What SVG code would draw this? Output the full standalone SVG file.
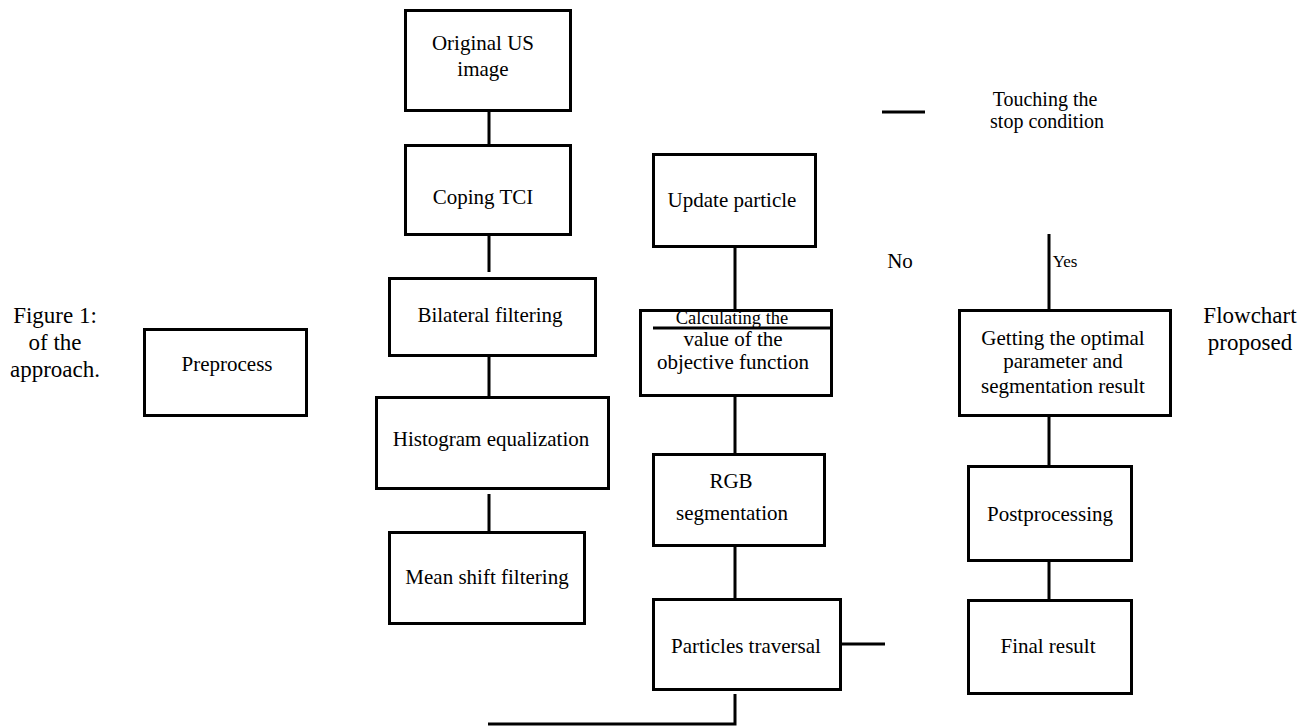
<svg xmlns="http://www.w3.org/2000/svg" width="1312" height="727" viewBox="0 0 1312 727" font-family="'Liberation Serif', 'DejaVu Serif', serif">
<style>
.box{fill:#fff;stroke:#000;stroke-width:3}
.ln{stroke:#000;stroke-width:3;fill:none}
text{font-family:'Liberation Serif','DejaVu Serif',serif;font-size:21px;fill:#000;text-anchor:middle}
.cap{font-size:23px}
.sm{font-size:18.5px}
.ys{font-size:17px}
.st{font-size:20px}
</style>
<rect width="1312" height="727" fill="#fff"/>
<g id="connectors">
<path class="ln" d="M489 112V144M489 236V272M489 357V396M489 494V531"/>
<path class="ln" d="M735 248V309M735 397V453M735 547V598M735 694V724H488"/>
<path class="ln" d="M842 644H885M882 112H925"/>
<path class="ln" d="M1049 234V309M1049 417V465M1049 562V599"/>
</g>
<g id="caption-left"><text class="cap" x="55" y="323">Figure 1:</text><text class="cap" x="55" y="350">of the</text><text class="cap" x="55" y="377">approach.</text></g>
<g id="caption-right"><text class="cap" x="1250" y="323">Flowchart</text><text class="cap" x="1250" y="350">proposed</text></g>
<g id="preprocess"><rect class="box" x="144.5" y="329.5" width="162" height="86"/><text x="227" y="371">Preprocess</text></g>
<g id="original"><rect class="box" x="405.5" y="10.5" width="165" height="100"/><text x="483" y="50">Original US</text><text x="483" y="76">image</text></g>
<g id="coping"><rect class="box" x="405.5" y="145.5" width="165" height="89"/><text x="483" y="204">Coping TCI</text></g>
<g id="bilateral"><rect class="box" x="389.5" y="278.5" width="206" height="77"/><text x="490" y="322">Bilateral filtering</text></g>
<g id="histogram"><rect class="box" x="376.5" y="397.5" width="232" height="91"/><text x="491" y="446">Histogram equalization</text></g>
<g id="meanshift"><rect class="box" x="389.5" y="532.5" width="195" height="91"/><text x="487" y="584">Mean shift filtering</text></g>
<g id="update"><rect class="box" x="653.5" y="154.5" width="162" height="92"/><text x="732" y="207">Update particle</text></g>
<g id="calculating"><rect class="box" x="640.5" y="310.5" width="191" height="85"/><text class="sm" x="732" y="324">Calculating the</text><path class="ln" d="M653 328H833"/><text x="733" y="346">value of the</text><text x="733" y="369">objective function</text></g>
<g id="rgb"><rect class="box" x="653.5" y="454.5" width="171" height="91"/><text x="731" y="488">RGB</text><text x="732" y="520">segmentation</text></g>
<g id="particles"><rect class="box" x="653.5" y="599.5" width="187" height="90"/><text x="746" y="653">Particles traversal</text></g>
<g id="stop"><text class="st" x="1045" y="106">Touching the</text><text class="st" x="1047" y="128">stop condition</text></g>
<g id="labels"><text x="900" y="268">No</text><text class="ys" x="1065" y="267">Yes</text></g>
<g id="getting"><rect class="box" x="959.5" y="310.5" width="211" height="105"/><text x="1063" y="345">Getting the optimal</text><text x="1063" y="368">parameter and</text><text x="1063" y="393">segmentation result</text></g>
<g id="post"><rect class="box" x="968.5" y="466.5" width="163" height="94"/><text x="1050" y="521">Postprocessing</text></g>
<g id="final"><rect class="box" x="968.5" y="600.5" width="163" height="93"/><text x="1048" y="653">Final result</text></g>
</svg>
